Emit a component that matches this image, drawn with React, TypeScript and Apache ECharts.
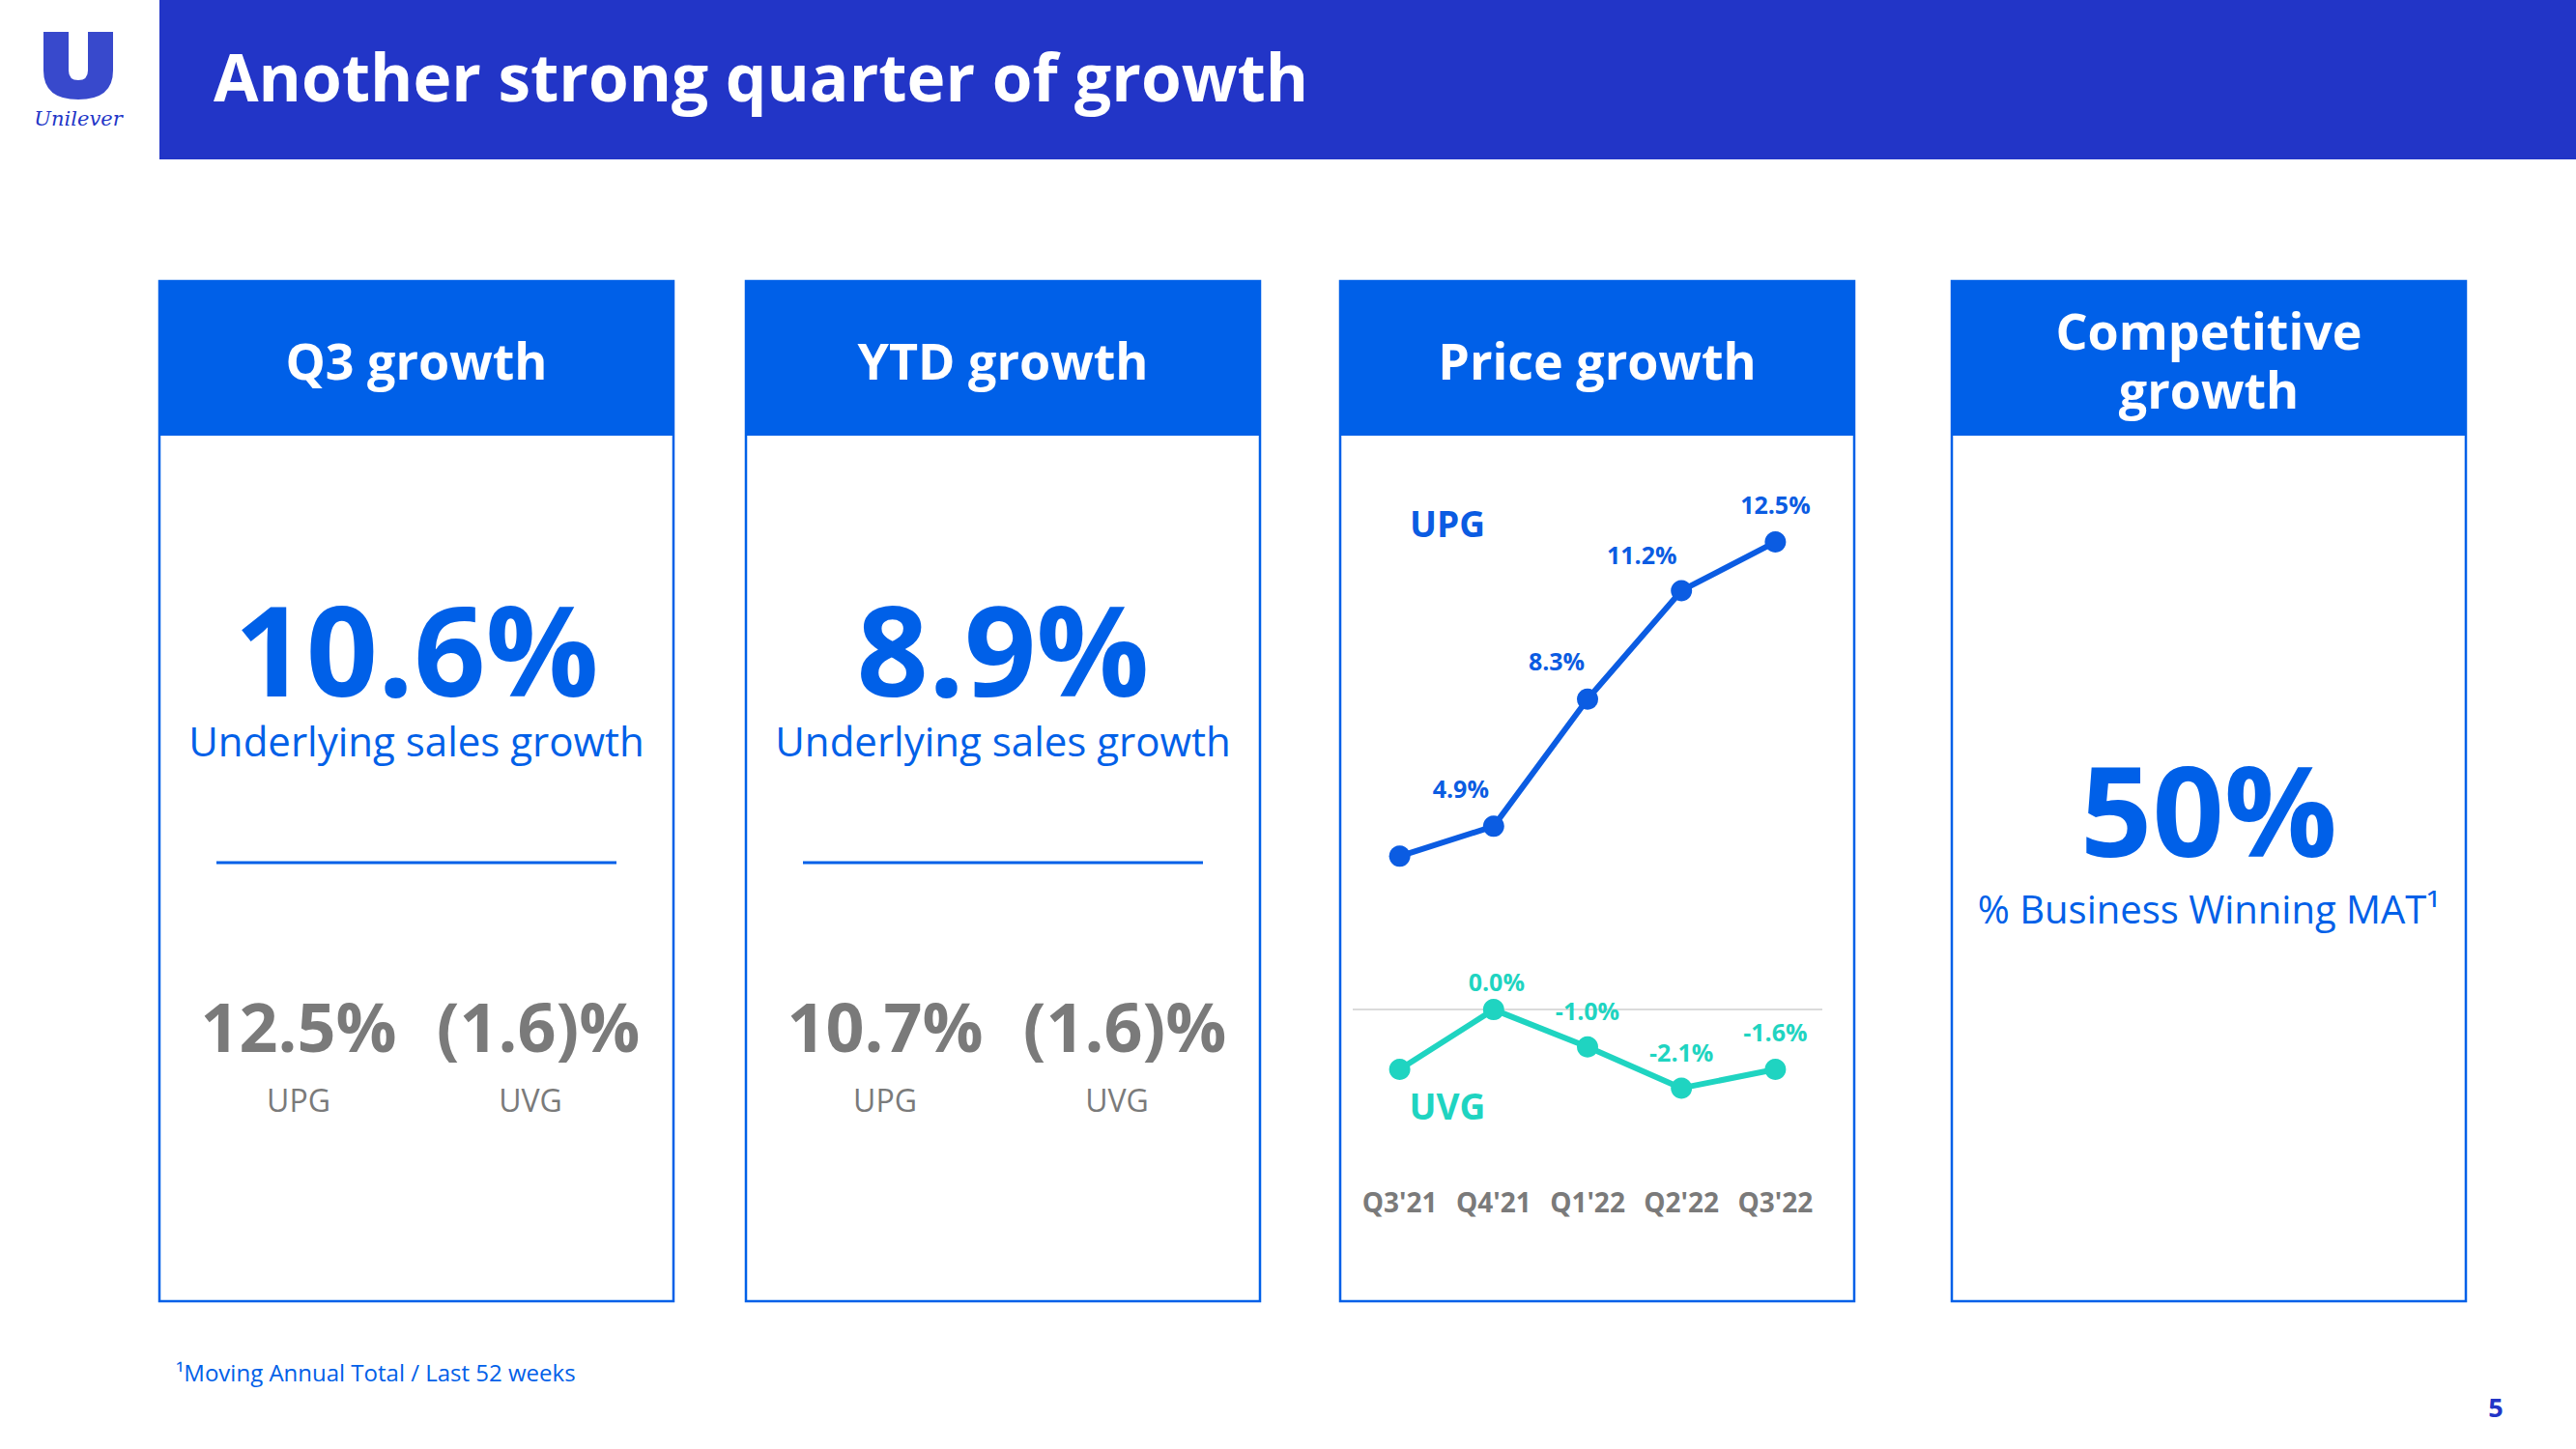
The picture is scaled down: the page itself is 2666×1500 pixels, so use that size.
import React, { useEffect, useRef } from "react";
import * as echarts from "echarts";

// ---- data ----
const categories = ["Q3'21", "Q4'21", "Q1'22", "Q2'22", "Q3'22"];
const upgValues = [4.1, 4.9, 8.3, 11.2, 12.5];
const uvgValues = [-1.6, 0.0, -1.0, -2.1, -1.6];
const upgShownLabels = [false, true, true, true, true];
const uvgShownLabels = [false, true, true, true, true];

const pageTitle = "Another strong quarter of growth";
const cardTitles = ["Q3 growth", "YTD growth", "Price growth", "Competitive\ngrowth"];
const headlineValues = ["10.6%", "8.9%"];
const headlineCaption = "Underlying sales growth";
const upgTexts = ["12.5%", "10.7%"];
const uvgTexts = ["(1.6)%", "(1.6)%"];
const competitiveValue = "50%";
const competitiveCaption = "% Business Winning MAT\u00B9";
const footnote = "\u00B9Moving Annual Total / Last 52 weeks";
const pageNumber = "5";

// ---- styles / layout ----
const NAVY = "#2235C7";
const BLUE = "#0060E8";
const LINE_BLUE = "#0B5CE2";
const TEAL = "#1FD4C1";
const GRAY = "#7a7a7a";
const FONT = "'Open Sans', 'Noto Sans', sans-serif";

const cardXs = [165, 772, 1387, 2020];
const CARD_Y = 291;
const CARD_W = 532;
const CARD_H = 1056;
const HEADER_H = 160;

const upgLabelOffsets = [[0, 0], [-34, -11], [-32, -11], [-41, -9], [0, -11]];
const uvgLabelOffsets = [[0, 0], [3, -1], [0, -9], [0, -9], [0, -11]];

function txt(text: string, x: number, y: number, size: number, weight: any, fill: string, align = "center", lh = 1.2) {
  return {
    type: "text",
    x,
    y,
    silent: true,
    style: {
      text,
      fontSize: size,
      fontWeight: weight,
      fontFamily: FONT,
      fill,
      align,
      verticalAlign: "middle",
      lineHeight: size * lh,
    },
  };
}

export default function App() {
  const ref = useRef<HTMLDivElement>(null);
  useEffect(() => {
    if (!ref.current) return;
    echarts.graphic.registerShape(
      "ulogo",
      echarts.graphic.extendPath(
        "M0,0 L26,0 L26,40 Q26,50 36,50 Q46,50 46,40 L46,0 L72,0 L72,40 Q72,70 36,70 Q0,70 0,40 Z",
        {}
      )
    );
    const chart = echarts.init(ref.current, null, { renderer: "svg" });

    const graphics: any[] = [];
    // header band
    graphics.push({ type: "rect", shape: { x: 165, y: 0, width: 2501, height: 165 }, style: { fill: NAVY }, silent: true });
    graphics.push(txt(pageTitle, 221, 79, 67.5, 700, "#ffffff", "left"));
    // logo
    graphics.push({ type: "ulogo", x: 45, y: 33, scaleX: 1, scaleY: 1, style: { fill: NAVY, opacity: 0.9 }, silent: true });
    graphics.push({
      type: "text",
      x: 81,
      y: 123,
      silent: true,
      style: { text: "Unilever", fontSize: 21, fontStyle: "italic", fontFamily: "'DejaVu Serif', serif", fill: NAVY, align: "center", verticalAlign: "middle" },
    });

    // cards
    cardXs.forEach((cx0, i) => {
      graphics.push({
        type: "rect",
        shape: { x: cx0, y: CARD_Y, width: CARD_W, height: CARD_H },
        style: { fill: "#ffffff", stroke: BLUE, lineWidth: 2.5 },
        silent: true,
      });
      graphics.push({ type: "rect", shape: { x: cx0, y: CARD_Y, width: CARD_W, height: HEADER_H }, style: { fill: BLUE }, silent: true });
      graphics.push(txt(cardTitles[i], cx0 + CARD_W / 2, 372, 52, 700, "#ffffff", "center", 1.17));
    });

    // cards 1 & 2
    [0, 1].forEach((i) => {
      const cx = cardXs[i] + CARD_W / 2;
      graphics.push(txt(headlineValues[i], cx, 670, 130, 700, BLUE, "center", 1.0));
      graphics.push(txt(headlineCaption, cx, 766, 42, 400, BLUE, "center", 1.1));
      graphics.push({ type: "line", shape: { x1: cx - 207, y1: 893, x2: cx + 207, y2: 893 }, style: { stroke: BLUE, lineWidth: 3 }, silent: true });
      graphics.push(txt(upgTexts[i], cx - 122, 1062, 70, 700, GRAY, "center", 1.0));
      graphics.push(txt(uvgTexts[i], cx + 126, 1062, 70, 700, GRAY, "center", 1.0));
      graphics.push(txt("UPG", cx - 122, 1138, 32, 400, GRAY));
      graphics.push(txt("UVG", cx + 118, 1138, 32, 400, GRAY));
    });

    // card 3 series names
    graphics.push(txt("UPG", 1498, 541, 37, 700, LINE_BLUE));
    graphics.push(txt("UVG", 1498, 1144, 37, 700, TEAL));

    // card 4
    const c4 = cardXs[3] + CARD_W / 2;
    graphics.push(txt(competitiveValue, c4, 836, 130, 700, BLUE, "center", 1.0));
    graphics.push(txt(competitiveCaption, c4, 940, 40, 400, BLUE, "center", 1.1));

    // footnote & page number
    graphics.push(txt(footnote, 182, 1420, 24, 400, BLUE, "left"));
    graphics.push(txt(pageNumber, 2583, 1456, 27, 700, NAVY));

    const mkData = (vals: number[], shown: boolean[], offs: number[][], color: string) =>
      vals.map((v, k) => ({
        value: v,
        label: {
          show: shown[k],
          position: "top",
          offset: offs[k],
          color,
          fontSize: 25,
          fontWeight: 700,
          fontFamily: FONT,
          formatter: (p: any) => p.value.toFixed(1) + "%",
        },
      }));

    chart.setOption({
      animation: false,
      backgroundColor: "#ffffff",
      graphic: { elements: graphics },
      grid: { left: 1400, width: 486, top: 503, height: 697, containLabel: false },
      xAxis: {
        type: "category",
        data: categories,
        boundaryGap: true,
        axisLine: { show: false },
        axisTick: { show: false },
        splitLine: { show: false },
        axisLabel: { color: GRAY, fontSize: 28, fontWeight: 700, fontFamily: FONT, margin: 30, interval: 0 },
      },
      yAxis: {
        type: "value",
        min: -4,
        max: 14,
        show: false,
        splitLine: { show: false },
      },
      series: [
        {
          name: "UPG",
          type: "line",
          data: mkData(upgValues, upgShownLabels, upgLabelOffsets, LINE_BLUE),
          symbol: "circle",
          symbolSize: 22,
          lineStyle: { color: LINE_BLUE, width: 6 },
          itemStyle: { color: LINE_BLUE },
          z: 3,
        },
        {
          name: "UVG",
          type: "line",
          data: mkData(uvgValues, uvgShownLabels, uvgLabelOffsets, TEAL),
          symbol: "circle",
          symbolSize: 22,
          lineStyle: { color: TEAL, width: 6 },
          itemStyle: { color: TEAL },
          z: 3,
          markLine: {
            silent: true,
            symbol: "none",
            label: { show: false },
            lineStyle: { color: "#cfcfcf", width: 1.5, type: "solid" },
            data: [{ yAxis: 0 }],
            z: 1,
          },
        },
      ],
    });
    return () => chart.dispose();
  }, []);
  return <div ref={ref} style={{ position: "fixed", left: 0, top: 0, width: 2666, height: 1500 }} />;
}
